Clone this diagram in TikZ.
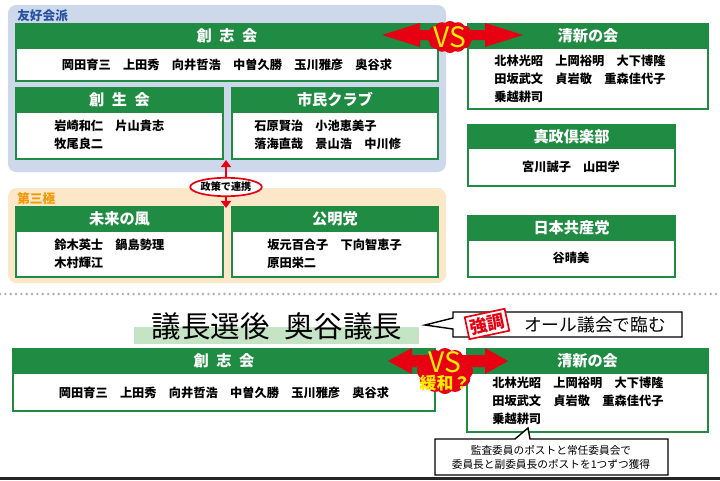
\documentclass[tikz,border=0pt]{standalone}
\usepackage{fontspec}
\setmainfont{Noto Sans CJK JP}
\usetikzlibrary{fit,calc,shapes.geometric,arrows.meta}
\definecolor{partygreen}{RGB}{32,139,66}
\definecolor{friendblue}{RGB}{205,217,234}
\definecolor{friendtext}{RGB}{40,82,160}
\definecolor{thirdorange}{RGB}{252,231,201}
\definecolor{thirdtext}{RGB}{243,152,0}
\definecolor{vsred}{RGB}{230,0,18}
\definecolor{vsyellow}{RGB}{255,235,0}
\definecolor{hilite}{RGB}{197,228,197}
\begin{document}
\begin{tikzpicture}[x=0.025cm,y=-0.025cm,
  box/.style={draw=partygreen,line width=1.4pt,fill=white,inner sep=0pt},
  head/.style={draw=partygreen,line width=1.4pt,fill=partygreen,inner sep=0pt},
  headtext/.style={text=white,inner sep=0pt,font=\fontsize{10.8}{12}\selectfont\bfseries},
  names/.style={font=\fontsize{8.7}{12.8}\selectfont\bfseries,align=left,inner sep=0pt},
  grouplabel/.style={anchor=west,inner sep=0pt,font=\fontsize{9}{10}\selectfont\bfseries},
  vstext/.style={text=vsyellow,inner sep=0pt,font=\fontsize{20}{22}\selectfont},
  link/.style={draw=vsred,line width=1.5pt,-{Triangle[width=7pt,length=5pt]}},
  callout/.style={draw=black,line width=1pt,fill=white}]
\useasboundingbox[fill=white] (0,0) rectangle (720,480);

\fill[friendblue,rounded corners=6pt] (8,5) rectangle (446,172);
\node[grouplabel,text=friendtext] (friendlbl) at (17,16) {友好会派};
\fill[thirdorange,rounded corners=6pt] (8,188) rectangle (446,283);
\node[grouplabel,text=thirdtext] (thirdlbl) at (17,199) {第三極};

\node[box,fit={(16,24) (438,81)}] (soshi) {};
\node[head,fit={(16,24) (438,48)}] (soshi-h) {};
\node[headtext] (soshi-t) at (soshi-h.center) {創\hspace{.5em}志\hspace{.5em}会};
\node[names] (soshi-n) at (227,65) {岡田育三　上田秀　向井哲浩　中曽久勝　玉川雅彦　奥谷求};

\node[box,fit={(16,88) (223,159)}] (sosei) {};
\node[head,fit={(16,88) (223,112)}] (sosei-h) {};
\node[headtext] (sosei-t) at (sosei-h.center) {創\hspace{.5em}生\hspace{.5em}会};
\node[names,anchor=west] (sosei-n) at (54,135) {岩崎和仁　片山貴志\\牧尾良二};

\node[box,fit={(232,88) (438,159)}] (shimin) {};
\node[head,fit={(232,88) (438,112)}] (shimin-h) {};
\node[headtext] (shimin-t) at (shimin-h.center) {市民クラブ};
\node[names,anchor=west] (shimin-n) at (254,135) {石原賢治　小池恵美子\\落海直哉　景山浩　中川修};

\node[box,fit={(16,207) (223,277)}] (mirai) {};
\node[head,fit={(16,207) (223,231)}] (mirai-h) {};
\node[headtext] (mirai-t) at (mirai-h.center) {未来の風};
\node[names,anchor=west] (mirai-n) at (54,254) {鈴木英士　鍋島勢理\\木村輝江};

\node[box,fit={(232,207) (438,277)}] (komei) {};
\node[head,fit={(232,207) (438,231)}] (komei-h) {};
\node[headtext] (komei-t) at (komei-h.center) {公明党};
\node[names,anchor=west] (komei-n) at (267,254) {坂元百合子　下向智恵子\\原田栄二};

\node[box,fit={(468,24) (708,109)}] (seishin) {};
\node[head,fit={(468,24) (708,48)}] (seishin-h) {};
\node[headtext] (seishin-t) at (seishin-h.center) {清新の会};
\node[names,anchor=west] (seishin-n) at (494,79) {北林光昭　上岡裕明　大下博隆\\田坂武文　貞岩敬　重森佳代子\\乗越耕司};

\node[box,fit={(468,125) (675,186)}] (shinsei) {};
\node[head,fit={(468,125) (675,148)}] (shinsei-h) {};
\node[headtext] (shinsei-t) at (shinsei-h.center) {真政倶楽部};
\node[names] (shinsei-n) at (571,167) {宮川誠子　山田学};

\node[box,fit={(468,216) (675,277)}] (jcp) {};
\node[head,fit={(468,216) (675,240)}] (jcp-h) {};
\node[headtext] (jcp-t) at (jcp-h.center) {日本共産党};
\node[names] (jcp-n) at (571,258) {谷晴美};

\fill[vsred] (382,35) -- (420,23) -- (420,30) -- (485,30) -- (485,23) -- (523,35)
  -- (485,47) -- (485,40) -- (420,40) -- (420,47) -- cycle;
\fill[vsred] (450,37) ellipse [x radius=16, y radius=9];
\foreach \a in {0,30,...,330}
  \fill[vsred] ($(450,37)+(\a:16 and 9)$) circle [radius=7];
\node[vstext] (vsA) at (450,37) {VS};

\node[ellipse,draw=vsred,line width=1.2pt,fill=white,inner sep=0pt,
  minimum width=1.63cm,minimum height=0.46cm,font=\fontsize{7.2}{8}\selectfont\bfseries] (policy) at (226,187) {政策で連携};
\coordinate (policyUp) at (226,160);
\coordinate (policyDown) at (226,208);
\draw[link] (policy.north) -- (policyUp);
\draw[link] (policy.south) -- (policyDown);

\draw[draw=gray!65,line width=1.9pt,line cap=round,dash pattern=on 0pt off 3.8pt] (0,294) -- (720,294);

\fill[hilite] (134,327) rectangle (419,344);
\node[inner sep=0pt,font=\fontsize{21}{24}\selectfont] (title) at (277,326) {議長選後\hspace{.5em}奥谷議長};

\draw[callout] (453,312) -- (682,312) -- (682,337) -- (453,337) -- (453,329) -- (425,325) -- (453,318) -- cycle;
\node[inner sep=0pt,font=\fontsize{12.6}{14}\selectfont] (allcall) at (595,325) {オール議会で臨む};
\node[draw=vsred,line width=1.2pt,fill=white,text=vsred,rotate=12,inner sep=2pt,
  font=\fontsize{12.5}{13}\selectfont\bfseries] (stamp) at (487,324) {強調};

\node[box,fit={(13,349) (435,411)}] (soshiB) {};
\node[head,fit={(13,349) (435,373)}] (soshiB-h) {};
\node[headtext] (soshiB-t) at (soshiB-h.center) {創\hspace{.5em}志\hspace{.5em}会};
\node[names] (soshiB-n) at (224,393) {岡田育三　上田秀　向井哲浩　中曽久勝　玉川雅彦　奥谷求};

\node[box,fit={(467,349) (708,432)}] (seishinB) {};
\node[head,fit={(467,349) (708,373)}] (seishinB-h) {};
\node[headtext] (seishinB-t) at (seishinB-h.center) {清新の会};
\node[names,anchor=west] (seishinB-n) at (492,401) {北林光昭　上岡裕明　大下博隆\\田坂武文　貞岩敬　重森佳代子\\乗越耕司};

\fill[vsred] (388,361) -- (412,348) -- (412,355) -- (485,355) -- (485,348) -- (508,361)
  -- (485,374) -- (485,367) -- (412,367) -- (412,374) -- cycle;
\fill[vsred] (445,371) ellipse [x radius=20, y radius=15];
\foreach \a in {0,30,...,330}
  \fill[vsred] ($(445,371)+(\a:20 and 15)$) circle [radius=8];
\node[vstext] (vsB) at (445,362) {VS};
\node[text=vsyellow,inner sep=0pt,font=\fontsize{12}{13}\selectfont\bfseries] (easing) at (445,383) {緩和？};

\draw[callout] (435,439) -- (515,439) -- (528,428) -- (530,439) -- (668,439) -- (668,475) -- (435,475) -- cycle;
\node[align=center,inner sep=0pt,font=\fontsize{7.6}{10}\selectfont] (postnote) at (551,457) {監査委員のポストと常任委員会で\\委員長と副委員長のポストを1つずつ獲得};

\fill[black!85] (0,477) rectangle (720,480);
\end{tikzpicture}
\end{document}
